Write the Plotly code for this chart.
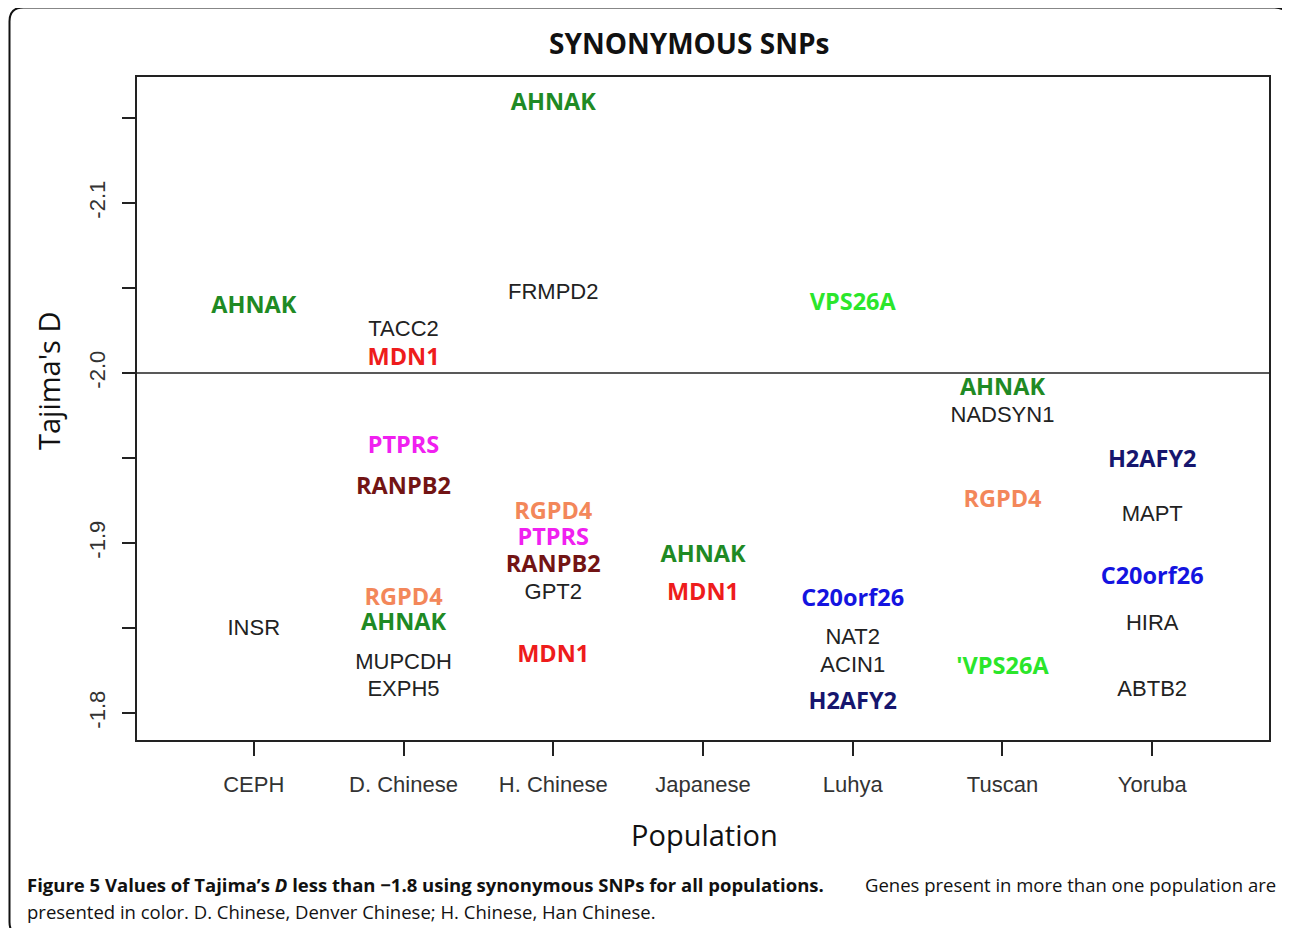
import plotly.graph_objects as go

# ---------------- data ----------------
populations = ["CEPH", "D. Chinese", "H. Chinese", "Japanese", "Luhya", "Tuscan", "Yoruba"]

ceph_genes = ["AHNAK", "INSR"]
ceph_d = [-2.039, -1.849]

dchinese_genes = ["TACC2", "MDN1", "PTPRS", "RANPB2", "RGPD4", "AHNAK", "MUPCDH", "EXPH5"]
dchinese_d = [-2.025, -2.008, -1.9565, -1.932, -1.867, -1.852, -1.829, -1.8135]

hchinese_genes = ["AHNAK", "FRMPD2", "RGPD4", "PTPRS", "RANPB2", "GPT2", "MDN1"]
hchinese_d = [-2.158, -2.0465, -1.9175, -1.902, -1.8865, -1.8705, -1.8335]

japanese_genes = ["AHNAK", "MDN1"]
japanese_d = [-1.892, -1.870]

luhya_genes = ["VPS26A", "C20orf26", "NAT2", "ACIN1", "H2AFY2"]
luhya_d = [-2.0405, -1.8665, -1.844, -1.8275, -1.8055]

tuscan_genes = ["AHNAK", "NADSYN1", "RGPD4", "'VPS26A"]
tuscan_d = [-1.9905, -1.9745, -1.9245, -1.8265]

yoruba_genes = ["H2AFY2", "MAPT", "C20orf26", "HIRA", "ABTB2"]
yoruba_d = [-1.948, -1.916, -1.8795, -1.8518, -1.813]

genes_by_pop = [ceph_genes, dchinese_genes, hchinese_genes, japanese_genes,
                luhya_genes, tuscan_genes, yoruba_genes]
d_by_pop = [ceph_d, dchinese_d, hchinese_d, japanese_d, luhya_d, tuscan_d, yoruba_d]

ytick_vals = [-2.15, -2.10, -2.05, -2.00, -1.95, -1.90, -1.85, -1.80]
ytick_text = ["", "-2.1", "", "-2.0", "", "-1.9", "", "-1.8"]

# ---------------- styles ----------------
shared_colors = {
    "AHNAK": "#1F8A24",
    "MDN1": "#EE1C1C",
    "PTPRS": "#F020F0",
    "RANPB2": "#721414",
    "RGPD4": "#F3875A",
    "VPS26A": "#2BE62B",
    "'VPS26A": "#2BE62B",
    "C20orf26": "#1414E0",
    "H2AFY2": "#16166E",
}

# page has an 8px body margin; lay out the figure in page coordinates minus that
O = 8
W, H = 1290 - O, 928 - O
L, T = 137 - O, 77 - O          # plot area left/top (figure coords)
PW, PH = 1269 - 137, 740 - 77   # plot area size
R, B = W - L - PW, H - T - PH


def px(xp):  # page x -> paper x
    return (xp - O - L) / PW


def py(yp):  # page y -> paper y
    return (T + PH - (yp - O)) / PH


bold_x, bold_y, bold_t, bold_c = [], [], [], []
reg_x, reg_y, reg_t = [], [], []
for i, (gs, ds) in enumerate(zip(genes_by_pop, d_by_pop)):
    for g, d in zip(gs, ds):
        if g in shared_colors:
            bold_x.append(i + 1); bold_y.append(d); bold_t.append(g); bold_c.append(shared_colors[g])
        else:
            reg_x.append(i + 1); reg_y.append(d); reg_t.append(g)

fig = go.Figure()
fig.add_trace(go.Scatter(
    x=reg_x, y=reg_y, text=reg_t, mode="text", textposition="middle center",
    textfont=dict(family="Liberation Sans, Arial", size=22, color="#222222"),
    hoverinfo="skip"))
fig.add_trace(go.Scatter(
    x=bold_x, y=bold_y, text=bold_t, mode="text", textposition="middle center",
    textfont=dict(family="Open Sans", size=23.5, color=bold_c, weight="bold"),
    hoverinfo="skip"))

# horizontal reference line at D = -2.0
fig.add_hline(y=-2.0, line=dict(color="#222222", width=1.5))

fig.update_xaxes(
    range=[0.22, 7.78], tickvals=list(range(1, 8)), ticktext=populations,
    showline=True, linecolor="#222222", linewidth=1.5, mirror=True,
    ticks="outside", ticklen=14, tickwidth=1.5, tickcolor="#222222",
    tickfont=dict(family="Liberation Sans, Arial", size=22, color="#333333"),
    ticklabelstandoff=10, showgrid=False, zeroline=False)
fig.update_yaxes(
    range=[-1.7841, -2.1741], tickvals=ytick_vals, ticktext=ytick_text,
    showline=True, linecolor="#222222", linewidth=1.5, mirror=True,
    ticks="outside", ticklen=13, tickwidth=1.5, tickcolor="#222222",
    tickangle=-90,
    tickfont=dict(family="Liberation Sans, Arial", size=22, color="#333333"),
    ticklabelstandoff=8, showgrid=False, zeroline=False)

cap_font = dict(family="Open Sans", size=18.5, color="#111111")
annotations = [
    dict(x=px(689), y=py(43), text="<b>SYNONYMOUS SNPs</b>", showarrow=False,
         font=dict(family="Open Sans", size=28, color="#111111"),
         xanchor="center", yanchor="middle"),
    dict(x=px(704), y=py(834), text="Population", showarrow=False,
         font=dict(family="Open Sans", size=29, color="#111111"),
         xanchor="center", yanchor="middle"),
    dict(x=px(48), y=py(381), text="Tajima's D", showarrow=False, textangle=-90,
         font=dict(family="Open Sans", size=29, color="#111111"),
         xanchor="center", yanchor="middle"),
    dict(x=px(25), y=py(884),
         text="<b>Figure 5 Values of Tajima’s <i>D</i> less than −1.8 using synonymous SNPs for all populations.</b>",
         showarrow=False, font=cap_font, xanchor="left", yanchor="middle"),
    dict(x=px(1278), y=py(884), text="Genes present in more than one population are",
         showarrow=False, font=cap_font, xanchor="right", yanchor="middle"),
    dict(x=px(25), y=py(911),
         text="presented in color. D. Chinese, Denver Chinese; H. Chinese, Han Chinese.",
         showarrow=False, font=cap_font, xanchor="left", yanchor="middle"),
]
for a in annotations:
    a["xref"] = "paper"; a["yref"] = "paper"

# rounded outer frame
r = 14
x0, x1, y0, y1 = 9.5, 1288.5, 7.5, 936
pts = (f"M {px(x0 + r)},{py(y0)} L {px(x1 - r)},{py(y0)} Q {px(x1)},{py(y0)} {px(x1)},{py(y0 + r)} "
       f"L {px(x1)},{py(y1 - r)} Q {px(x1)},{py(y1)} {px(x1 - r)},{py(y1)} "
       f"L {px(x0 + r)},{py(y1)} Q {px(x0)},{py(y1)} {px(x0)},{py(y1 - r)} "
       f"L {px(x0)},{py(y0 + r)} Q {px(x0)},{py(y0)} {px(x0 + r)},{py(y0)} Z")
fig.add_shape(type="path", path=pts, xref="paper", yref="paper",
              line=dict(color="#111111", width=2))

fig.update_layout(
    width=W, height=H, margin=dict(l=L, r=R, t=T, b=B, autoexpand=False),
    plot_bgcolor="white", paper_bgcolor="white", showlegend=False,
    annotations=annotations)

fig.write_html("out.html")
